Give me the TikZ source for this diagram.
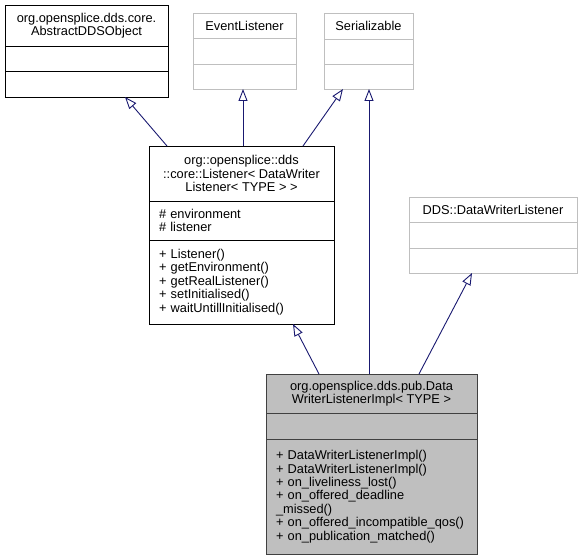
\documentclass[tikz,border=0pt]{standalone}
\usepackage{fontspec}
\setmainfont{Liberation Sans}
\usetikzlibrary{arrows.meta, positioning}
\definecolor{edgeblue}{RGB}{25,25,112}
\definecolor{boxgray}{RGB}{191,191,191}
\definecolor{darkrim}{RGB}{64,64,64}
\tikzstyle{classhead} = [
    rectangle,
    anchor=north west,
    draw=black,
    line width=0.9pt,
    outer sep=0pt,
    inner ysep=2pt,
    align=center,
    font=\fontsize{12.8}{13.6}\selectfont
]
\tikzstyle{classpart} = [
    rectangle,
    draw=black,
    line width=0.9pt,
    outer sep=0pt,
    inner xsep=10pt,
    inner ysep=2pt,
    align=left,
    font=\fontsize{12.8}{13.4}\selectfont
]
\tikzstyle{extern} = [draw=boxgray, line width=0.8pt]
\tikzstyle{current} = [draw=darkrim, fill=boxgray]
\tikzstyle{inherit} = [draw=edgeblue, line width=0.9pt, -{Triangle[open, length=12pt, width=9pt]}]

\begin{document}
\begin{tikzpicture}[x=1pt, y=-1pt]
\useasboundingbox (0,0) rectangle (582,559);

% Nodes
\node (abstractHead) [classhead, minimum width=163pt, minimum height=41pt] at (5,5) {org.opensplice.dds.core.\\AbstractDDSObject};
\node (abstractAttr) [classpart, below=0pt of abstractHead, minimum width=163pt, minimum height=25pt] {};
\node (abstractOps) [classpart, below=0pt of abstractAttr, minimum width=163pt, minimum height=26pt] {};

\node (eventHead) [classhead, extern, minimum width=103pt, minimum height=25pt] at (193,13) {EventListener};
\node (eventAttr) [classpart, extern, below=0pt of eventHead, minimum width=103pt, minimum height=26pt] {};
\node (eventOps) [classpart, extern, below=0pt of eventAttr, minimum width=103pt, minimum height=25pt] {};

\node (serialHead) [classhead, extern, minimum width=89pt, minimum height=26pt] at (324,13) {Serializable};
\node (serialAttr) [classpart, extern, below=0pt of serialHead, minimum width=89pt, minimum height=25pt] {};
\node (serialOps) [classpart, extern, below=0pt of serialAttr, minimum width=89pt, minimum height=25pt] {};

\node (ddsHead) [classhead, extern, minimum width=168pt, minimum height=25pt] at (409,197) {DDS::DataWriterListener};
\node (ddsAttr) [classpart, extern, below=0pt of ddsHead, minimum width=168pt, minimum height=26pt] {};
\node (ddsOps) [classpart, extern, below=0pt of ddsAttr, minimum width=168pt, minimum height=25pt] {};

\node (listenerHead) [classhead, minimum width=185pt, minimum height=55pt] at (149,146) {org::opensplice::dds\\::core::Listener< DataWriter\\Listener< TYPE > >};
\node (listenerAttr) [classpart, below=0pt of listenerHead, text width=165pt, minimum height=39pt] {\# environment\\\# listener};
\node (listenerOps) [classpart, below=0pt of listenerAttr, text width=165pt, minimum height=84pt] {+ Listener()\\+ getEnvironment()\\+ getRealListener()\\+ setInitialised()\\+ waitUntillInitialised()};

\node (implHead) [classhead, current, minimum width=211pt, minimum height=39pt] at (266,374) {org.opensplice.dds.pub.Data\\WriterListenerImpl< TYPE >};
\node (implAttr) [classpart, current, below=0pt of implHead, text width=191pt, minimum height=26pt] {};
\node (implOps) [classpart, current, below=0pt of implAttr, text width=191pt, minimum height=115pt] {+ DataWriterListenerImpl()\\+ DataWriterListenerImpl()\\+ on\_liveliness\_lost()\\+ on\_offered\_deadline\\\_missed()\\+ on\_offered\_incompatible\_qos()\\+ on\_publication\_matched()};

% Arrows
\draw [inherit] ([xshift=18pt]listenerHead.north west) -- ([xshift=120pt]abstractOps.south west);
\draw [inherit] ([xshift=94pt]listenerHead.north west) -- ([xshift=50pt]eventOps.south west);
\draw [inherit] ([xshift=154pt]listenerHead.north west) -- ([xshift=19pt]serialOps.south west);
\draw [inherit] ([xshift=53pt]implHead.north west) -- ([xshift=144pt]listenerOps.south west);
\draw [inherit] ([xshift=103pt]implHead.north west) -- ([xshift=45pt]serialOps.south west);
\draw [inherit] ([xshift=153pt]implHead.north west) -- ([xshift=63pt]ddsOps.south west);

\end{tikzpicture}
\end{document}
